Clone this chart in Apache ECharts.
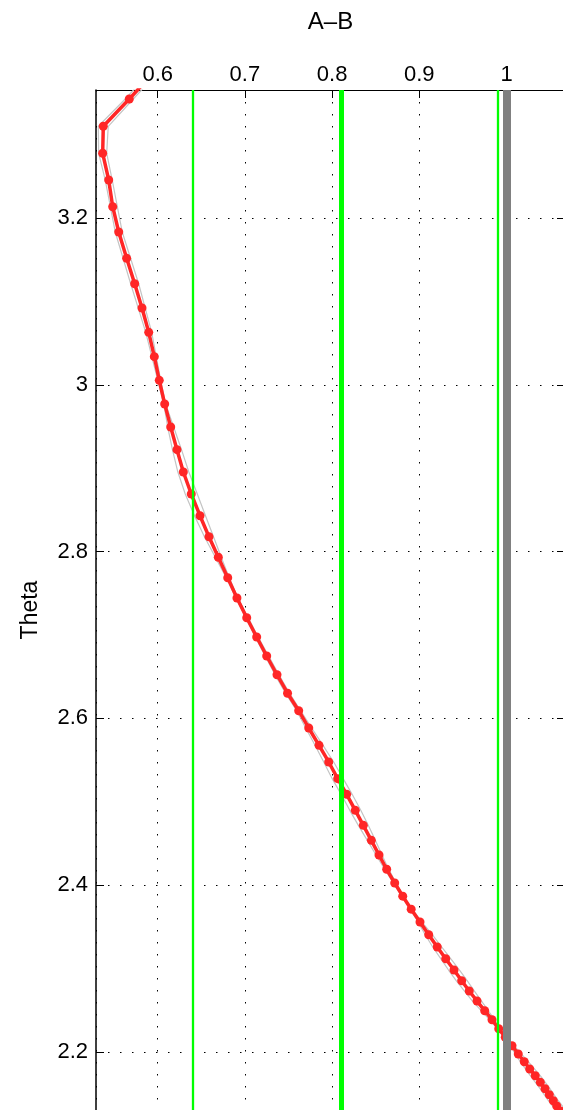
<!DOCTYPE html>
<html><head><meta charset="utf-8">
<script src="https://cdn.jsdelivr.net/npm/echarts@6/dist/echarts.min.js"></script>
<style>html,body{margin:0;padding:0;background:#fff;}#c{width:563px;height:1110px;}</style>
</head><body><div id="c"></div>
<script>
// Red curve (A–B vs Theta)
const theta = [3.378, 3.3431, 3.3104, 3.2780, 3.2460, 3.2139, 3.1836, 3.1520, 3.1215, 3.0924, 3.0632, 3.0340, 3.0056, 2.9772, 2.9496, 2.9224, 2.8956, 2.8692, 2.8432, 2.8180, 2.7933, 2.7688, 2.7444, 2.7208, 2.6977, 2.6749, 2.6524, 2.6302, 2.6092, 2.5885, 2.5677, 2.5477, 2.5277, 2.5089, 2.4897, 2.4717, 2.4537, 2.4361, 2.4190, 2.4025, 2.3867, 2.3711, 2.3557, 2.3405, 2.3257, 2.3117, 2.2981, 2.2853, 2.2730, 2.2609, 2.2493, 2.2385, 2.2277, 2.2174, 2.2073, 2.1974, 2.1881, 2.1794, 2.1713, 2.1634, 2.1557, 2.1485, 2.1413, 2.1350, 2.129];
const ab = [0.598, 0.5674, 0.5376, 0.5369, 0.5438, 0.5484, 0.5553, 0.5644, 0.5736, 0.5820, 0.5897, 0.5961, 0.6018, 0.6080, 0.6149, 0.6221, 0.6294, 0.6385, 0.6485, 0.6588, 0.6695, 0.6803, 0.6909, 0.7021, 0.7135, 0.7250, 0.7368, 0.7489, 0.7617, 0.7732, 0.7850, 0.7961, 0.8064, 0.8167, 0.8266, 0.8358, 0.8450, 0.8538, 0.8626, 0.8718, 0.8810, 0.8907, 0.9008, 0.9108, 0.9206, 0.9303, 0.9398, 0.9486, 0.9573, 0.9662, 0.9750, 0.9834, 0.9911, 0.9986, 1.0063, 1.0135, 1.0204, 1.0266, 1.0330, 1.0388, 1.0442, 1.0491, 1.0537, 1.0576, 1.062];

// Gray band curves
const bandTheta = [3.378, 3.3431, 3.3104, 3.2780, 3.2460, 3.1836, 3.1215, 3.0632, 3.0056, 2.9772, 2.9496, 2.9224, 2.8956, 2.8692, 2.8432, 2.8180, 2.7933, 2.7688, 2.7444, 2.6977, 2.6524, 2.6302, 2.6092, 2.5885, 2.5677, 2.5477, 2.5277, 2.5089, 2.4897, 2.4717, 2.4537, 2.4361, 2.4190, 2.4025, 2.3867, 2.3711, 2.3557, 2.3405, 2.3257, 2.3117, 2.2981, 2.2853, 2.2730, 2.2609, 2.2493, 2.2385, 2.2277, 2.2174, 2.2073, 2.1974, 2.1881, 2.1713, 2.1557, 2.1413, 2.1250];
const bandLow = [0.5934, 0.5628, 0.5319, 0.5323, 0.5398, 0.5513, 0.5690, 0.5863, 0.6001, 0.6069, 0.6115, 0.6169, 0.6231, 0.6316, 0.6422, 0.6536, 0.6661, 0.6786, 0.6898, 0.7118, 0.7345, 0.7466, 0.7594, 0.7698, 0.7804, 0.7904, 0.8001, 0.8104, 0.8203, 0.8301, 0.8404, 0.8504, 0.8603, 0.8701, 0.8799, 0.8896, 0.8985, 0.9068, 0.9154, 0.9246, 0.9335, 0.9423, 0.9516, 0.9610, 0.9710, 0.9805, 0.9894, 0.9975, 1.0040, 1.0101, 1.0158, 1.0273, 1.0385, 1.0480, 1.0603];
const bandHigh = [0.6026, 0.5720, 0.5433, 0.5415, 0.5478, 0.5593, 0.5782, 0.5931, 0.6035, 0.6091, 0.6183, 0.6273, 0.6357, 0.6454, 0.6548, 0.6640, 0.6729, 0.6820, 0.6920, 0.7152, 0.7391, 0.7512, 0.7640, 0.7766, 0.7896, 0.8018, 0.8127, 0.8230, 0.8329, 0.8415, 0.8496, 0.8572, 0.8649, 0.8735, 0.8821, 0.8918, 0.9031, 0.9148, 0.9258, 0.9360, 0.9461, 0.9549, 0.9630, 0.9714, 0.9790, 0.9863, 0.9928, 0.9997, 1.0086, 1.0169, 1.0250, 1.0387, 1.0499, 1.0594, 1.0717];

// Vertical reference lines
const greenThin = [0.635, 0.992];
const greenThick = [0.814];
const grayRef = [1.0];

// Axis ranges
const X_MIN = 0.52924, X_MAX = 1.06709;
const Y_MIN = 2.10618, Y_MAX = 3.35393;

const FONT = 'Liberation Sans';
const zip = (xs, ys) => xs.map((x, i) => [x, ys[i]]);

const vline = (vals, color, width) => ({
  type: 'line', data: [], silent: true,
  markLine: {
    silent: true, symbol: ['none', 'none'], label: {show: false},
    lineStyle: {color: color, width: width, type: 'solid'},
    emphasis: {disabled: true},
    data: vals.map(v => ({xAxis: v}))
  }
});

const chart = echarts.init(document.getElementById('c'), null, {renderer: 'canvas'});
chart.setOption({
  animation: false,
  backgroundColor: '#fff',
  textStyle: {fontFamily: FONT},
  grid: {left: 96, top: 90, width: 469, height: 1040, containLabel: false, outerBoundsMode: 'none'},
  xAxis: {
    type: 'value', position: 'top', min: X_MIN, max: X_MAX, splitNumber: 5,
    name: 'A–B', nameLocation: 'middle', nameGap: 56,
    nameTextStyle: {fontSize: 24, color: '#000', fontFamily: FONT},
    axisLine: {show: true, onZero: false, lineStyle: {color: '#000', width: 1}},
    axisTick: {show: true, inside: true, length: 8, lineStyle: {color: '#000', width: 1}},
    axisLabel: {show: true, margin: 4, fontSize: 22, color: '#000', fontFamily: FONT, showMinLabel: false, showMaxLabel: false},
    splitLine: {show: true, lineStyle: {color: '#000', width: 1, type: [1.5, 10.5]}}
  },
  yAxis: [{
    type: 'value', position: 'left', min: Y_MIN, max: Y_MAX, splitNumber: 6,
    name: 'Theta', nameLocation: 'middle', nameGap: 54, nameRotate: 90,
    nameTextStyle: {fontSize: 23, color: '#000', fontFamily: FONT},
    axisLine: {show: true, onZero: false, lineStyle: {color: '#000', width: 1.5}},
    axisTick: {show: true, inside: true, length: 8, lineStyle: {color: '#000', width: 1}},
    axisLabel: {show: true, margin: 8, fontSize: 22, color: '#000', fontFamily: FONT, showMinLabel: false, showMaxLabel: false},
    splitLine: {show: true, lineStyle: {color: '#000', width: 1, type: [1.5, 10.5]}}
  }, {
    type: 'value', position: 'right', min: Y_MIN, max: Y_MAX, splitNumber: 6,
    axisLine: {show: true, onZero: false, lineStyle: {color: '#000', width: 1}},
    axisTick: {show: true, inside: true, length: 8, lineStyle: {color: '#000', width: 1}},
    axisLabel: {show: false}, splitLine: {show: false}
  }],
  series: [
    vline(greenThin, '#00ff00', 2.3),
    vline(greenThick, '#00ff00', 5),
    vline(grayRef, '#808080', 8),
    {type: 'line', data: zip(bandLow, bandTheta), showSymbol: false, clip: true, silent: true,
     lineStyle: {color: '#c4c4c4', width: 1.2}},
    {type: 'line', data: zip(bandHigh, bandTheta), showSymbol: false, clip: true, silent: true,
     lineStyle: {color: '#c4c4c4', width: 1.2}},
    {type: 'line', data: zip(ab, theta), clip: true, silent: true,
     symbol: 'circle', symbolSize: 9, showSymbol: true, showAllSymbol: true,
     itemStyle: {color: '#ff2626'}, lineStyle: {color: '#ff2626', width: 3.5}}
  ]
});
</script>
</body></html>
